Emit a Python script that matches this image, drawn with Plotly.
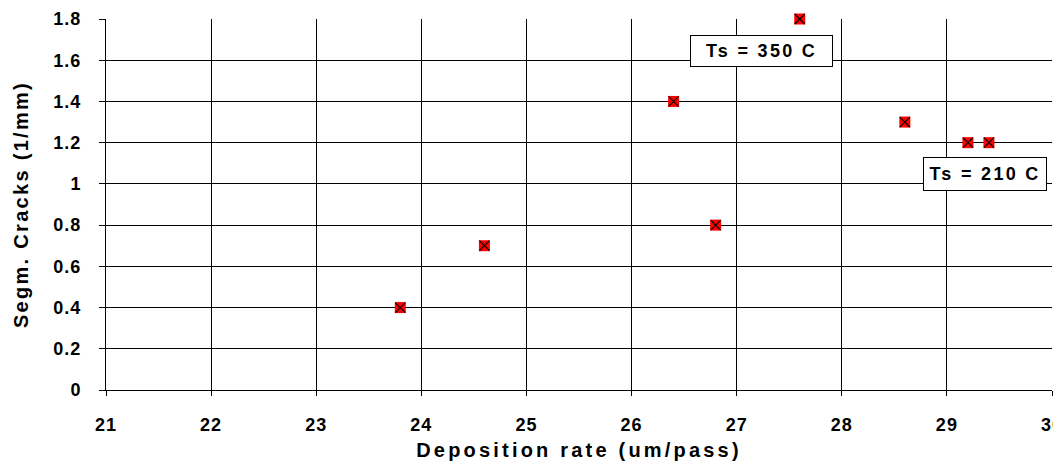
import plotly.graph_objects as go

dep_rate = [23.8, 24.6, 26.4, 26.8, 27.6, 28.6, 29.2, 29.4]
cracks = [0.4, 0.7, 1.4, 0.8, 1.8, 1.3, 1.2, 1.2]
x_ticks = [21, 22, 23, 24, 25, 26, 27, 28, 29, 30]
y_ticks = [0, 0.2, 0.4, 0.6, 0.8, 1, 1.2, 1.4, 1.6, 1.8]
y_labels = ["0", "0.2", "0.4", "0.6", "0.8", "1", "1.2", "1.4", "1.6", "1.8"]
labels = ["Ts = 350 C", "Ts = 210 C"]
label_x = [27.236, 29.363]
label_y = [1.645, 1.05]
label_w = [133, 114]
label_h = [22, 24]

FONT = "Liberation Sans, Arial, sans-serif"

fig = go.Figure()
fig.add_trace(go.Scatter(
    x=dep_rate, y=cracks, mode="markers",
    marker=dict(symbol="square", size=11, color="#ff0000", line=dict(width=0)),
    cliponaxis=False, showlegend=False, hoverinfo="skip",
))
fig.add_trace(go.Scatter(
    x=dep_rate, y=cracks, mode="markers",
    marker=dict(symbol="x-thin-open", size=10, color="#000000",
                line=dict(color="#000000", width=1.1)),
    cliponaxis=False, showlegend=False,
))

for t, ax, ay, w, h in zip(labels, label_x, label_y, label_w, label_h):
    fig.add_annotation(x=ax, y=ay, text="<b>" + t + "</b>", showarrow=False,
                       font=dict(family=FONT, size=18, color="#000"),
                       width=w, height=h,
                       bordercolor="#000", borderwidth=1, borderpad=4,
                       bgcolor="#ffffff")

fig.update_layout(
    width=1053, height=461,
    margin=dict(l=98, r=9, t=11, b=79),
    paper_bgcolor="#ffffff", plot_bgcolor="#ffffff",
    font=dict(family=FONT, size=18, color="#000"),
    xaxis=dict(range=[21, 30], tickvals=x_ticks, ticktext=[f"<b>{v}</b>" for v in x_ticks],
               showgrid=True, gridcolor="#000", gridwidth=1, zeroline=False,
               showline=True, linecolor="#000", linewidth=1,
               ticks="outside", ticklen=5, tickcolor="#000", automargin=False,
               ticklabelstandoff=13, ticklabeloverflow="allow",
               title=dict(text="<b>Deposition rate (um/pass)</b>",
                          font=dict(family=FONT, size=20), standoff=9)),
    yaxis=dict(range=[0, 1.8], tickvals=y_ticks, ticktext=[f"<b>{v}</b>" for v in y_labels],
               showgrid=True, gridcolor="#000", gridwidth=1, zeroline=False,
               showline=True, linecolor="#000", linewidth=1,
               ticks="outside", ticklen=6, tickcolor="#000", automargin=False,
               ticklabelstandoff=14,
               title=dict(text="<b>Segm. Cracks (1/mm)</b>",
                          font=dict(family=FONT, size=20), standoff=22)),
)

post = """
var gd = document.getElementById('{plot_id}');
function spaceText(sel, sp) {
  gd.querySelectorAll(sel).forEach(function(e){ e.style.letterSpacing = sp; });
}
spaceText('.xtitle', '3.2px');
spaceText('.ytitle', '2.3px');
spaceText('.annotation-text', '2.3px');
spaceText('.xtick text', '1px');
spaceText('.ytick text', '1px');
"""

fig.write_html("out.html", post_script=post)
